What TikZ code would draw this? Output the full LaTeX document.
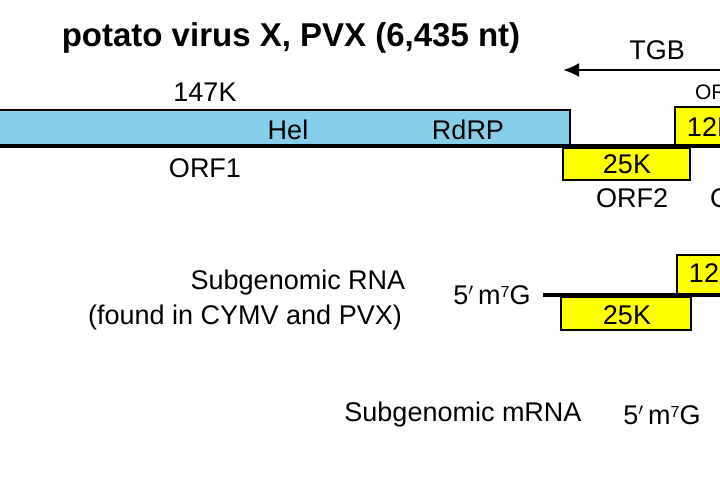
\documentclass[tikz,border=0pt]{standalone}
\usepackage{fontspec}
\setmainfont{Liberation Sans}
\usetikzlibrary{arrows.meta}
\definecolor{helblue}{RGB}{135,206,235}
\definecolor{orfyellow}{RGB}{255,255,0}
\newcommand{\capsup}{5$'$\,m\raisebox{7pt}{\fontsize{16}{16}\selectfont 7}G}
\tikzset{
    lbl/.style = {font=\fontsize{27}{30}\selectfont, inner sep=0pt},
    orf/.style = {draw=black, line width=1.2pt, fill=orfyellow},
    rna/.style = {line width=4pt}
}
\begin{document}
\begin{tikzpicture}[x=1pt, y=-1pt]
    \useasboundingbox (0,0) rectangle (720,480);
    \clip (0,0) rectangle (720,480);
    % title
    \node[font=\bfseries\fontsize{33}{36}\selectfont, inner sep=0pt] (title) at (291,38) {potato virus X, PVX (6,435 nt)};
    % TGB
    \coordinate (tgbR) at (725,70);
    \coordinate (tgbL) at (563,70);
    \draw[line width=2.5pt, -{Latex[length=16pt,width=14pt]}] (tgbR) -- (tgbL);
    \node[lbl] (tgb) at (657,50) {TGB};
    % genome
    \draw[fill=helblue, line width=1.2pt] (-5,110) rectangle (570,145);
    \node[lbl] (hel) at (288,130) {Hel};
    \node[lbl] (rdrp) at (468,130) {RdRP};
    \node[lbl] (k147) at (205,92) {147K};
    \node[lbl] (orf1) at (205,168) {ORF1};
    \draw[orf] (675,107) rectangle (760,145);
    \node[lbl] (k12) at (711,127) {12K};
    \node[font=\fontsize{21}{24}\selectfont, inner sep=0pt] (orf3a) at (723,92) {ORF3};
    \coordinate (g5) at (-5,146);
    \coordinate (g3) at (725,146);
    \draw[rna] (g5) -- (g3);
    \draw[orf] (563,148) rectangle (690,180);
    \node[lbl] (k25) at (627,164) {25K};
    \node[lbl] (orf2) at (632,198) {ORF2};
    \node[lbl, anchor=west] (orf3) at (710,198) {ORF3};
    % subgenomic RNA
    \node[lbl] (sgrna) at (298,283) {Subgenomic RNA};
    \node[lbl] (found) at (245,318) {(found in CYMV and PVX)};
    \node[lbl] (cap1) at (492,295) {\capsup};
    \coordinate (s5) at (543,295);
    \coordinate (s3) at (725,295);
    \draw[orf] (677,255) rectangle (760,294);
    \node[lbl] (k12b) at (713,273) {12K};
    \draw[rna] (s5) -- (s3);
    \draw[orf] (561,297) rectangle (691,330);
    \node[lbl] (k25b) at (627,315) {25K};
    % subgenomic mRNA
    \node[lbl] (sgmrna) at (463,415) {Subgenomic mRNA};
    \node[lbl] (cap2) at (662,415) {\capsup};
\end{tikzpicture}
\end{document}
